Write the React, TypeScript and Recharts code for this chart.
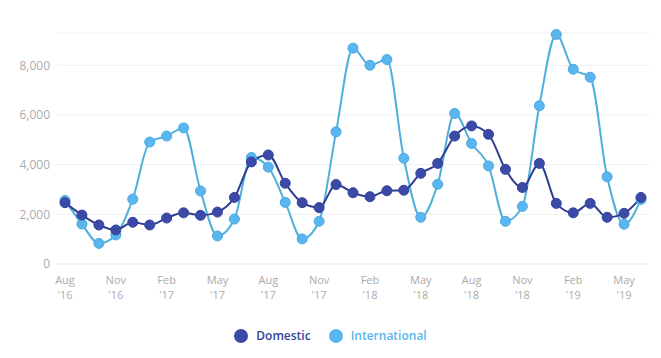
import { LineChart, Line, XAxis, YAxis, CartesianGrid } from 'recharts';

const months = [
  '2016-08', '2016-09', '2016-10', '2016-11', '2016-12',
  '2017-01', '2017-02', '2017-03', '2017-04', '2017-05', '2017-06', '2017-07', '2017-08', '2017-09', '2017-10', '2017-11', '2017-12',
  '2018-01', '2018-02', '2018-03', '2018-04', '2018-05', '2018-06', '2018-07', '2018-08', '2018-09', '2018-10', '2018-11', '2018-12',
  '2019-01', '2019-02', '2019-03', '2019-04', '2019-05', '2019-06',
];

const domestic = [
  2470, 1970, 1570, 1370, 1680,
  1570, 1850, 2060, 1960, 2090, 2680, 4110, 4390, 3250, 2470, 2270, 3200,
  2870, 2710, 2950, 2970, 3650, 4050, 5150, 5560, 5220, 3810, 3080, 4050,
  2440, 2060, 2440, 1880, 2040, 2680,
];

const international = [
  2560, 1610, 830, 1170, 2610,
  4910, 5150, 5480, 2940, 1130, 1810, 4290, 3900, 2480, 1010, 1720, 5320,
  8690, 8000, 8230, 4260, 1880, 3210, 6060, 4850, 3950, 1720, 2320, 6370,
  9240, 7840, 7520, 3510, 1600, 2600,
];

const yTicks = [0, 2000, 4000, 6000, 8000];
const monthNames = ['Jan', 'Feb', 'Mar', 'Apr', 'May', 'Jun', 'Jul', 'Aug', 'Sep', 'Oct', 'Nov', 'Dec'];

const data = months.map((m, i) => ({
  month: m,
  domestic: domestic[i],
  international: international[i],
}));

const DOMESTIC = '#3a4aa6';
const DOMESTIC_LINE = '#2f3e92';
const INTL = '#5ab6ee';
const INTL_LINE = '#4eb0da';
const FONT = '"Open Sans", "Noto Sans", sans-serif';

// two-line month label: "Aug" over "'16"
function MonthTick({ x, y, payload }: any) {
  const [yr, mo] = String(payload.value).split('-');
  return (
    <g fill="#ababab" fontSize={11} fontFamily={FONT}>
      <text x={x} y={y + 18} textAnchor="middle">{monthNames[Number(mo) - 1]}</text>
      <text x={x} y={y + 33} textAnchor="middle">{"'" + yr.slice(2)}</text>
    </g>
  );
}

function LegendItem({ color, label, textColor }: { color: string; label: string; textColor: string }) {
  return (
    <div style={{ display: 'flex', alignItems: 'center', marginRight: 18 }}>
      <span
        style={{
          width: 14,
          height: 14,
          borderRadius: 7,
          background: color,
          display: 'inline-block',
          marginRight: 8,
        }}
      />
      <span style={{ color: textColor, fontSize: 12, fontWeight: 600 }}>{label}</span>
    </div>
  );
}

export default function App() {
  return (
    <div style={{ position: 'absolute', left: 0, top: 0, width: 661, height: 358, background: '#fff', fontFamily: FONT }}>
      <LineChart width={661} height={310} data={data} margin={{ top: 33, right: 12, bottom: 0, left: 0 }}>
        <CartesianGrid vertical={false} stroke="#efefef" />
        <XAxis
          dataKey="month"
          interval={2}
          tick={<MonthTick />}
          tickLine={false}
          tickSize={0}
          axisLine={{ stroke: '#efefef' }}
          height={46}
          padding={{ left: 8, right: 8 }}
        />
        <YAxis
          domain={[0, 9300]}
          ticks={yTicks}
          width={57}
          tickLine={false}
          axisLine={false}
          tickSize={0}
          tickMargin={7}
          tick={{ fill: '#ababab', fontSize: 12, fontFamily: FONT }}
          tickFormatter={(v: number) => v.toLocaleString('en-US')}
        />
        <Line
          type="monotone"
          dataKey="international"
          stroke={INTL_LINE}
          strokeWidth={2}
          dot={{ r: 5, fill: INTL, stroke: '#4aa8e2', strokeWidth: 1 }}
          isAnimationActive={false}
        />
        <Line
          type="monotone"
          dataKey="domestic"
          stroke={DOMESTIC_LINE}
          strokeWidth={2}
          dot={{ r: 5, fill: DOMESTIC, stroke: '#34439c', strokeWidth: 1 }}
          isAnimationActive={false}
        />
      </LineChart>
      <div style={{ position: 'absolute', top: 327, left: 0, width: 661, display: 'flex', justifyContent: 'center', paddingLeft: 18, boxSizing: 'border-box' }}>
        <LegendItem color={DOMESTIC} label="Domestic" textColor="#34439c" />
        <LegendItem color={INTL} label="International" textColor="#5ab6ee" />
      </div>
    </div>
  );
}
